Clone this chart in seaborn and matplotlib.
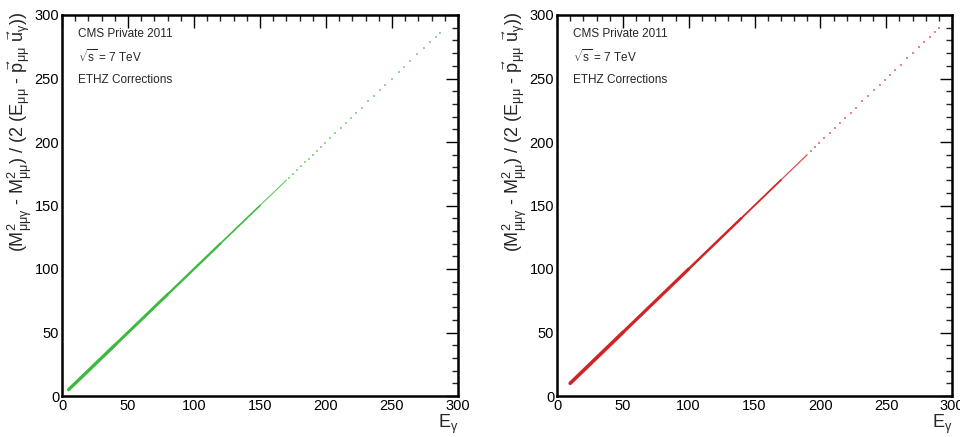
import numpy as np
import pandas as pd
import matplotlib
matplotlib.use("Agg")
import matplotlib.pyplot as plt
import seaborn as sns

sns.set_style("white")
plt.rcParams['font.family'] = ['Liberation Sans', 'DejaVu Sans']
plt.rcParams['mathtext.fontset'] = 'custom'
plt.rcParams['mathtext.rm'] = 'Liberation Sans'
plt.rcParams['mathtext.it'] = 'Liberation Sans'
plt.rcParams['mathtext.bf'] = 'Liberation Sans:bold'

# ---- data: dense band (E_gamma vs estimator) and sparse tail points ----
green_band_x = [5, 40, 80, 120, 150, 170]
green_band_y = [5, 40, 80, 120, 150, 170]
green_tail_x = [172, 175, 178, 181, 184, 187, 190, 193, 196, 199, 203, 207, 211, 215,
                219, 223, 227, 232, 236, 241, 245, 250, 255, 259, 264, 269, 274, 279, 283, 286]
green_tail_y = [172, 175, 178, 181, 184, 187, 190, 193, 196, 199, 203, 207, 211, 215,
                219, 223, 227, 232, 236, 241, 245, 250, 255, 259, 264, 269, 274, 279, 283, 286]

red_band_x = [10, 50, 100, 140, 170, 190]
red_band_y = [10, 50, 100, 140, 170, 190]
red_tail_x = [193, 196, 199, 203, 207, 211, 215, 219, 223, 227, 232, 236, 241, 245,
              249, 253, 257, 261, 266, 270, 275, 279, 283, 287, 290]
red_tail_y = [193, 196, 199, 203, 207, 211, 215, 219, 223, 227, 232, 236, 241, 245,
              249, 253, 257, 261, 266, 270, 275, 279, 283, 287, 290]

texts = ["CMS Private 2011", r"$\sqrt{\mathrm{s}}$ = 7 TeV", "ETHZ Corrections"]
x_ticks = [0, 50, 100, 150, 200, 250, 300]
y_ticks = [0, 50, 100, 150, 200, 250, 300]

green_widths = [2.4, 2.1, 1.7, 1.2, 0.8]
red_widths = [2.6, 2.3, 1.8, 1.3, 0.9]

ylabel = (r"$(\mathrm{M}^{2}_{\mu\mu\gamma}$ - $\mathrm{M}^{2}_{\mu\mu})$ / (2 "
          r"$(\mathrm{E}_{\mu\mu}$ - $\vec{\mathrm{p}}_{\mu\mu}\ \vec{\mathrm{u}}_{\gamma}))$")

fig = plt.figure(figsize=(9.6, 4.37), dpi=100)
W, H = 960, 437
axes = [fig.add_axes([62 / W, 1 - 396 / H, 396 / W, 381 / H]),
        fig.add_axes([557 / W, 1 - 396 / H, 395 / W, 381 / H])]

panels = [
    (green_band_x, green_band_y, green_widths, green_tail_x, green_tail_y, "#3fb83f"),
    (red_band_x, red_band_y, red_widths, red_tail_x, red_tail_y, "#d02424"),
]

for ax, (bx, by, widths, tx, ty, col) in zip(axes, panels):
    for i in range(len(bx) - 1):
        seg = pd.DataFrame({"x": [bx[i], bx[i + 1]], "y": [by[i], by[i + 1]]})
        sns.lineplot(data=seg, x="x", y="y", ax=ax, color=col, lw=widths[i],
                     solid_capstyle="round", estimator=None, sort=False,
                     alpha=1.0 if i < len(bx) - 2 else 0.8)
    tail = pd.DataFrame({"x": tx, "y": ty})
    sns.scatterplot(data=tail, x="x", y="y", ax=ax, color=col, s=3,
                    marker="s", linewidth=0, alpha=0.55)
    ax.set_xlim(0, 300)
    ax.set_ylim(0, 300)
    ax.set_xticks(x_ticks)
    ax.set_yticks(y_ticks)
    ax.set_xticks(np.arange(0, 301, 10), minor=True)
    ax.set_yticks(np.arange(0, 301, 10), minor=True)
    ax.tick_params(which="major", direction="in", length=9, width=1.0,
                   top=True, right=True, labelsize=10.5, colors="black", pad=2)
    ax.tick_params(which="minor", direction="in", length=4.5, width=1.0,
                   top=True, right=True)
    for s in ax.spines.values():
        s.set_linewidth(1.8)
        s.set_color("black")
    ax.set_xlabel("")
    ax.set_ylabel("")
    for k, t in enumerate(texts):
        ax.text(0.04, 0.95 - k * 0.06, t, transform=ax.transAxes,
                fontsize=8.5, va="center", ha="left")
    ax.grid(False)

fig.text(20 / W, 1 - 12 / H, ylabel, rotation=90, ha="center", va="top",
         fontsize=13)
fig.text(515 / W, 1 - 12 / H, ylabel, rotation=90, ha="center", va="top",
         fontsize=13)
fig.text(458 / W, 1 - 424 / H, r"E$_{\gamma}$", ha="right", va="center", fontsize=13)
fig.text(952 / W, 1 - 424 / H, r"E$_{\gamma}$", ha="right", va="center", fontsize=13)

fig.savefig("out.png", dpi=100)
